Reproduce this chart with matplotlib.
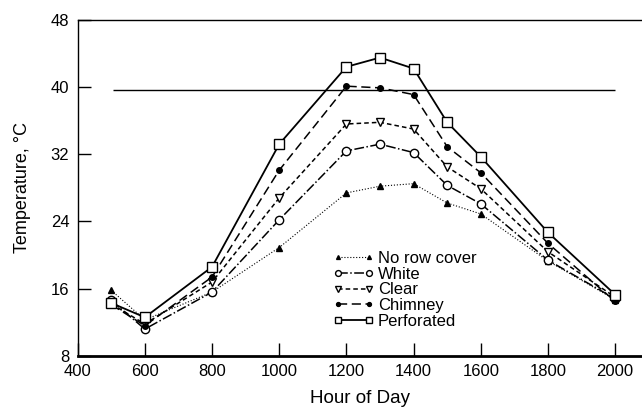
import matplotlib
matplotlib.use("Agg")
import matplotlib.pyplot as plt

plt.rcParams["font.family"] = ["Liberation Sans", "DejaVu Sans"]

hours = [500, 600, 800, 1000, 1200, 1300, 1400, 1500, 1600, 1800, 2000]
no_cover = [15.8, 12.3, 15.6, 20.9, 27.4, 28.2, 28.5, 26.2, 24.9, 19.3, 14.7]
white = [14.6, 11.2, 15.6, 24.2, 32.4, 33.2, 32.2, 28.3, 26.1, 19.4, 14.8]
clear = [14.2, 11.8, 16.8, 26.8, 35.6, 35.8, 35.0, 30.5, 27.9, 20.4, 15.0]
chimney = [14.1, 11.6, 17.4, 30.1, 40.1, 39.9, 39.1, 32.9, 29.8, 21.4, 14.5]
perforated = [14.3, 12.6, 18.6, 33.2, 42.4, 43.5, 42.2, 35.8, 31.7, 22.7, 15.3]

ref_temp = 39.7
ref_span = (505, 2000)

fig = plt.figure(figsize=(6.42, 4.12), dpi=100)
ax = fig.add_axes([0.121, 0.136, 0.879, 0.816])

ax.plot(hours, no_cover, color="black", lw=0.8, ls=":", marker="^", ms=4,
        label="No row cover")
ax.plot(hours, white, color="black", lw=1.1, ls="-.", marker="o", ms=6,
        mfc="white", label="White")
ax.plot(hours, clear, color="black", lw=1.1, dashes=(3, 2), marker="v", ms=6,
        mfc="white", label="Clear")
ax.plot(hours, chimney, color="black", lw=1.1, dashes=(6, 3), marker="o", ms=4,
        label="Chimney")
ax.plot(hours, perforated, color="black", lw=1.3, ls="-", marker="s", ms=7,
        mfc="white", label="Perforated")

ax.hlines(ref_temp, *ref_span, color="black", lw=1.0)

ax.set_xlim(400, 2080)
ax.set_ylim(8, 48)
ax.set_xticks(range(400, 2001, 200))
ax.set_yticks(range(8, 49, 8))
ax.tick_params(direction="in", length=9.5, width=1, labelsize=12, pad=6)
ax.spines["right"].set_visible(False)
ax.spines["bottom"].set_linewidth(2)
ax.spines["left"].set_linewidth(1)
ax.spines["top"].set_linewidth(1)

ax.set_xlabel("Hour of Day", fontsize=13.5, labelpad=8)
ax.set_ylabel("Temperature, °C", fontsize=13, labelpad=14)

ax.legend(loc="lower left", bbox_to_anchor=(0.44, 0.06), frameon=False,
          numpoints=2, markerscale=0.7, handlelength=2.5, handletextpad=0.2,
          labelspacing=0.05, fontsize=12, borderaxespad=0)

fig.savefig("out.png", dpi=100)
